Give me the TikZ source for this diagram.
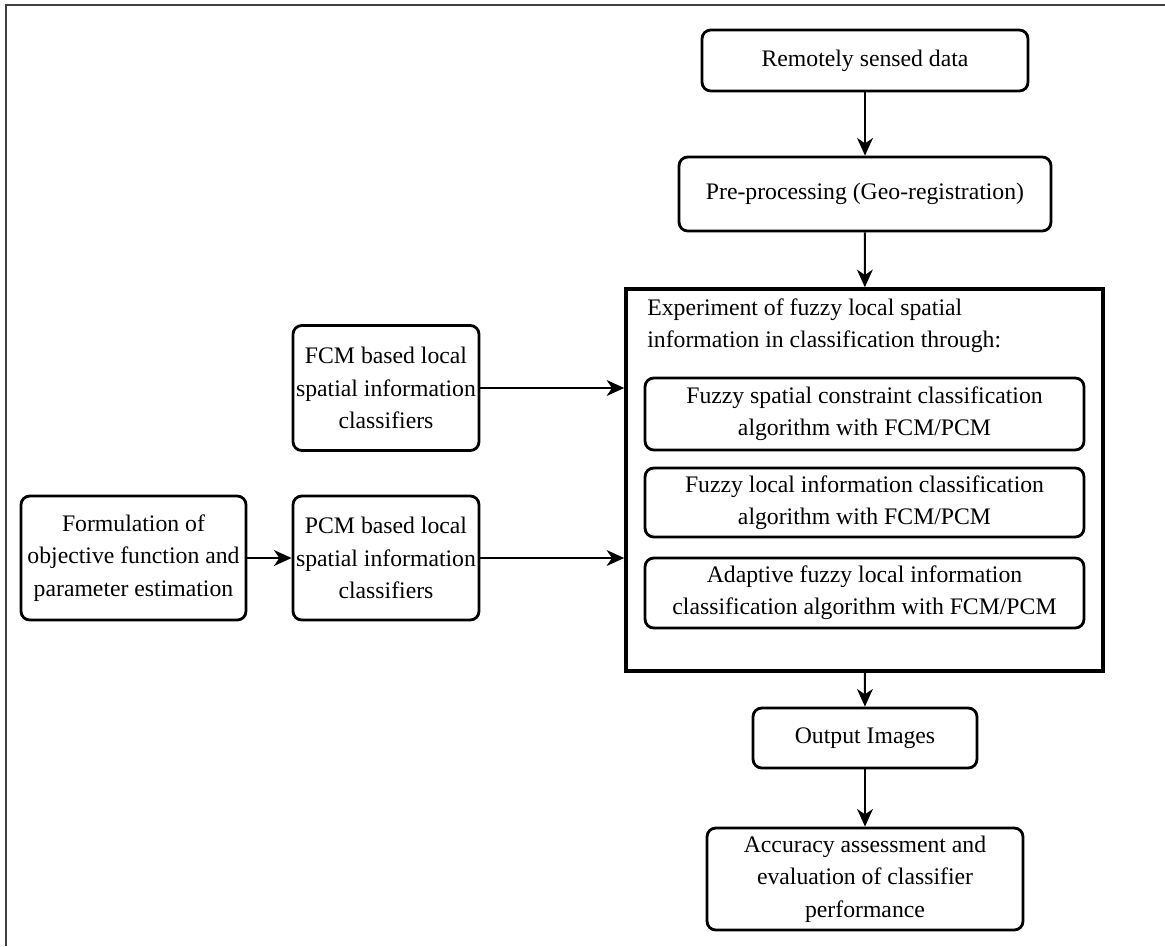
\documentclass[tikz,border=0pt]{standalone}
\usepackage{fontspec}
\setmainfont{Liberation Serif}
\usetikzlibrary{arrows.meta}
\tikzset{
  stepbox/.style={draw, line width=1.6pt, rounded corners=5pt, align=center, inner sep=0pt},
  groupbox/.style={draw, line width=2pt, inner sep=0pt},
  flow/.style={-{Stealth[length=10pt,width=9pt,inset=3pt]}, line width=1.1pt}
}
\begin{document}
\begin{tikzpicture}[x=0.02cm, y=-0.02cm, font=\fontsize{13.5}{18.4}\selectfont]
    \useasboundingbox (0,0) rectangle (1165,946);
    % outer frame (left and top only)
    \draw[line width=1.4pt, black!75] (6,946) -- (6,5) -- (1165,5);

    % main column
    \node[stepbox, minimum width=326*0.02cm, minimum height=61*0.02cm] (data) at (865,60.5) {Remotely sensed data};
    \node[stepbox, minimum width=372*0.02cm, minimum height=74*0.02cm] (pre) at (865,194) {Pre-processing (Geo-registration)};
    \node[groupbox, minimum width=477*0.02cm, minimum height=382*0.02cm] (grp) at (864.5,480) {};
    \node[anchor=north west, align=left, inner sep=0pt] (exp) at (647,298) {Experiment of fuzzy local spatial\\information in classification through:};
    \node[stepbox, minimum width=439*0.02cm, minimum height=72*0.02cm] (fsc) at (864.5,414) {Fuzzy spatial constraint classification\\algorithm with FCM/PCM};
    \node[stepbox, minimum width=439*0.02cm, minimum height=69*0.02cm] (fli) at (864.5,502.5) {Fuzzy local information classification\\algorithm with FCM/PCM};
    \node[stepbox, minimum width=439*0.02cm, minimum height=70*0.02cm] (afli) at (864.5,593) {Adaptive fuzzy local information\\classification algorithm with FCM/PCM};
    \node[stepbox, minimum width=224*0.02cm, minimum height=60*0.02cm] (out) at (865,738) {Output Images};
    \node[stepbox, minimum width=316*0.02cm, minimum height=102*0.02cm] (acc) at (865,879) {Accuracy assessment and\\evaluation of classifier\\performance};

    % left side
    \node[stepbox, minimum width=186*0.02cm, minimum height=125*0.02cm] (fcm) at (386,388) {FCM based local\\spatial information\\classifiers};
    \node[stepbox, minimum width=186*0.02cm, minimum height=124*0.02cm] (pcm) at (386,558) {PCM based local\\spatial information\\classifiers};
    \node[stepbox, minimum width=225*0.02cm, minimum height=124*0.02cm] (form) at (133.5,558) {Formulation of\\objective function and\\parameter estimation};

    % connectors
    \draw[flow] (data) -- (pre);
    \draw[flow] (pre) -- (grp);
    \draw[flow] (grp) -- (out);
    \draw[flow] (out) -- (acc);
    \draw[flow] (fcm.east) -- (fcm.east -| grp.west);
    \draw[flow] (pcm.east) -- (pcm.east -| grp.west);
    \draw[flow] (form) -- (pcm);
\end{tikzpicture}
\end{document}
